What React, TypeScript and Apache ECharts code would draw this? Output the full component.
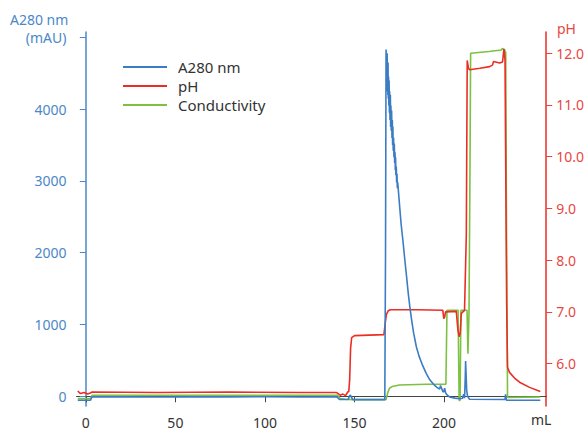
import React, { useEffect, useRef } from "react";
import * as echarts from "echarts";

// ---- data (mL, value) ----
const xTicks = [0, 50, 100, 150, 200];
const a280Ticks = [0, 1000, 2000, 3000, 4000, 5000];
const phTicks = [6, 7, 8, 9, 10, 11, 12];

const a280: [number, number][] = [
  [-4.5, -55], [2.6, -55], [3.5, -8], [20, -6], [40, -9], [60, -7], [80, -8], [100, -6], [120, -9], [140, -6],
  [141.6, -45], [146.5, -44], [147.2, 8], [147.7, 15], [148.4, -20], [149.1, -46], [166.9, -46],
  [167.3, 2000], [167.6, 4830], [167.75, 4400], [167.9, 4750], [168.05, 4350], [168.2, 4780], [168.35, 4250],
  [168.5, 4600], [168.6, 4200], [168.7, 4650], [168.85, 4150], [169.0, 4450], [169.15, 4050], [169.3, 4400],
  [169.45, 3950], [169.6, 4250], [169.8, 3850], [170.0, 4200], [170.15, 3750], [170.3, 4050], [170.5, 3700],
  [170.7, 3980], [170.9, 3600], [171.1, 3850], [171.25, 3500], [171.4, 3760], [171.6, 3420], [171.8, 3600],
  [172.0, 3330], [172.2, 3520], [172.4, 3250], [172.6, 3400], [172.75, 3150], [172.9, 3330], [173.1, 3080],
  [173.3, 3200], [173.5, 2980], [173.7, 3100], [173.9, 2900], [174.1, 2980],
  [175.2, 2640], [176.0, 2400], [177.0, 2170], [178.0, 1920], [179.0, 1680], [180.0, 1430], [181.0, 1220],
  [182.0, 1040], [183.0, 880], [184.5, 690], [186.0, 560], [188.0, 430], [190.0, 320], [192.0, 230],
  [194.0, 170], [196.0, 125], [197.5, 100], [198.0, 150], [198.6, 110], [199.4, 60], [199.9, 70],
  [200.3, 115], [200.8, 50], [201.4, 28], [203.0, -10], [206.0, -25], [208.8, -32], [210.3, -28],
  [210.9, 28], [211.4, -25], [211.8, 250], [212.0, 490], [212.6, 84], [213.1, 0], [214.2, -42],
  [234.0, -45], [234.3, 28], [234.8, -55], [253.7, -55],
];

const ph: [number, number][] = [
  [-4.5, 5.47], [-3, 5.42], [-1, 5.44], [1, 5.41], [2.5, 5.43], [3.5, 5.45], [40, 5.44], [80, 5.45],
  [120, 5.44], [140, 5.44], [142, 5.39], [143.5, 5.41], [145, 5.38], [146.2, 5.45], [146.8, 5.46],
  [147.3, 5.7], [147.8, 6.3], [148.4, 6.5], [150, 6.54], [166.4, 6.56], [167.2, 6.8], [167.8, 6.95],
  [168.8, 7.02], [170, 7.04], [185, 7.04], [199.3, 7.03], [199.8, 6.87], [200.3, 6.9], [200.8, 7.0],
  [206.8, 7.01], [207.7, 6.65], [208.4, 6.52], [209.0, 6.6], [209.6, 6.97], [211.4, 7.03], [212.4, 8.5],
  [212.9, 11.86], [213.6, 11.71], [214.2, 11.68], [220, 11.71], [225.4, 11.74], [227.0, 11.77],
  [227.6, 11.84], [231.0, 11.81], [232.6, 11.83], [233.4, 12.08], [234.0, 11.87], [234.9, 7.2],
  [235.4, 5.93], [236.5, 5.83], [239.3, 5.72], [242.1, 5.64], [247.7, 5.54], [253.7, 5.46],
];

const conductivity: [number, number][] = [
  [-4.5, 1.98], [2.6, 1.98], [3.5, 2.86], [140.5, 2.86], [142, 1.98], [145, 1.8], [149, 1.71],
  [167.6, 1.71], [168.6, 3.67], [169.5, 4.74], [171, 5.2], [175, 5.6], [190, 5.8], [201.0, 5.8],
  [201.6, 25.6], [207.8, 25.6], [208.4, 1.5], [208.9, 1.5], [209.4, 25.6], [212.8, 25.6], [213.3, 14],
  [213.9, 25], [214.4, 60], [214.8, 94.3], [225, 94.8], [232, 95.2], [232.5, 95.6], [233.7, 95.3],
  [234.4, 94.5], [234.8, 50], [235.4, 2.3], [253.7, 2.4],
];

const BLUE = "#3b7cc4";
const BLUE_TEXT = "#4a88c8";
const RED = "#ec2d24";
const RED_TEXT = "#e8473f";
const GREEN = "#7cc142";
const FONT = "Noto Sans";

export default function App() {
  const ref = useRef<HTMLDivElement>(null);
  useEffect(() => {
    if (!ref.current) return;
    const chart = echarts.init(ref.current, undefined, { renderer: "svg" });
    chart.setOption({
      animation: false,
      backgroundColor: "#ffffff",
      textStyle: { fontFamily: FONT },
      grid: { left: 76.5, right: 40.5, top: 32, bottom: 25, containLabel: false },
      legend: {
        orient: "vertical",
        left: 118,
        top: 54.5,
        icon: "rect",
        itemWidth: 44,
        itemHeight: 2,
        itemGap: 4,
        textStyle: {
          fontFamily: FONT,
          fontSize: 15,
          lineHeight: 15,
          color: "#333333",
          padding: [0, 0, 0, 6],
        },
        data: ["A280 nm", "pH", "Conductivity"],
      },
      xAxis: {
        type: "value",
        min: -5.2,
        max: 257,
        axisLine: { show: true, lineStyle: { color: "#444444", width: 1 } },
        axisTick: { show: true, length: 6, customValues: xTicks, lineStyle: { color: "#444444" } },
        axisLabel: { customValues: xTicks, margin: 9, fontSize: 14, color: "#333333", fontFamily: FONT },
        splitLine: { show: false },
      },
      yAxis: [
        {
          type: "value",
          position: "left",
          min: -135,
          max: 5075,
          axisLine: { show: true, lineStyle: { color: BLUE_TEXT, width: 1.5 } },
          axisTick: { show: true, length: 6, customValues: a280Ticks, lineStyle: { color: BLUE_TEXT } },
          axisLabel: {
            customValues: a280Ticks,
            margin: 10,
            fontSize: 14,
            color: BLUE_TEXT,
            fontFamily: FONT,
            formatter: (v: number) => (v === 5000 ? "(mAU)" : String(v)),
          },
          splitLine: { show: false },
        },
        {
          type: "value",
          position: "right",
          min: 5.18,
          max: 12.41,
          axisLine: { show: true, lineStyle: { color: RED, width: 1.5 } },
          axisTick: { show: true, length: 6, customValues: phTicks, lineStyle: { color: RED_TEXT } },
          axisLabel: {
            customValues: phTicks,
            margin: 10,
            fontSize: 14,
            color: RED_TEXT,
            fontFamily: FONT,
            formatter: (v: number) => v.toFixed(1),
          },
          splitLine: { show: false },
        },
        { type: "value", show: false, min: 0, max: 100, position: "right", offset: 0 },
      ],
      graphic: [
        {
          type: "text",
          left: 10,
          top: 12,
          style: { text: "A280 nm", fontSize: 14, fill: BLUE_TEXT, fontFamily: FONT },
        },
        {
          type: "text",
          left: 557,
          top: 21,
          style: { text: "pH", fontSize: 14, fill: RED_TEXT, fontFamily: FONT },
        },
        {
          type: "text",
          left: 531,
          top: 412,
          style: { text: "mL", fontSize: 14, fill: "#333333", fontFamily: FONT },
        },
      ],
      series: [
        {
          name: "A280 nm",
          type: "line",
          yAxisIndex: 0,
          data: a280,
          symbol: "none",
          lineStyle: { color: BLUE, width: 1.6 },
          itemStyle: { color: BLUE },
          z: 3,
        },
        {
          name: "pH",
          type: "line",
          yAxisIndex: 1,
          data: ph,
          symbol: "none",
          lineStyle: { color: RED, width: 1.6 },
          itemStyle: { color: RED },
          z: 2,
        },
        {
          name: "Conductivity",
          type: "line",
          yAxisIndex: 2,
          data: conductivity,
          symbol: "none",
          lineStyle: { color: GREEN, width: 1.6 },
          itemStyle: { color: GREEN },
          z: 1,
        },
      ],
    });
    return () => chart.dispose();
  }, []);
  return (
    <div
      ref={ref}
      style={{ position: "fixed", left: 0, top: 0, width: 587, height: 431 }}
    />
  );
}
